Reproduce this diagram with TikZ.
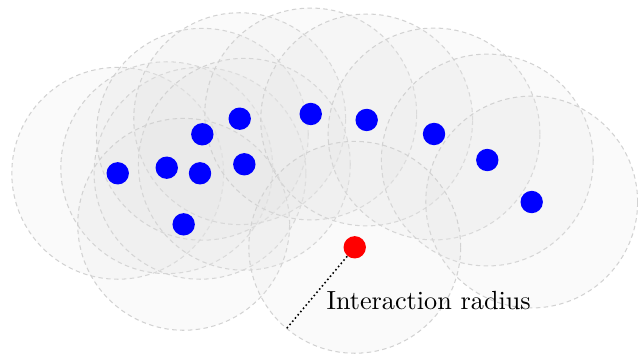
\documentclass[tikz,border=0pt]{standalone}
\usepackage{tikz}
\usetikzlibrary{calc, positioning}
\usepackage{xcolor}
\definecolor{myblue}{RGB}{0, 0, 255}
\definecolor{myred}{RGB}{255, 0, 0}

\tikzset{
    reach/.style={draw=gray!35, fill=gray!20, fill opacity=0.2, line width=0.4pt, dash pattern=on 1.7pt off 1.3pt},
    agent/.style={circle, fill=myblue, inner sep=0pt, minimum size=0.3cm},
    probe/.style={circle, fill=myred, inner sep=0pt, minimum size=0.3cm}
}

\begin{document}
\begin{tikzpicture}
        \useasboundingbox (0,0) rectangle (8.552,4.772);
        % --- Pozycje agentow ---
        \coordinate (p1) at (1.578, 2.449);
        \coordinate (p2) at (2.235, 2.524);
        \coordinate (p3) at (2.681, 2.449);
        \coordinate (p4) at (2.712, 2.972);
        \coordinate (p5) at (3.213, 3.181);
        \coordinate (p6) at (3.275, 2.570);
        \coordinate (p7) at (2.462, 1.765);
        \coordinate (p8) at (4.165, 3.244);
        \coordinate (p9) at (4.915, 3.164);
        \coordinate (p10) at (5.818, 2.976);
        \coordinate (p11) at (6.532, 2.627);
        \coordinate (p12) at (7.127, 2.064);
        \coordinate (p0) at (4.755, 1.457);

        % --- Zasiegi (dashed, polprzezroczyste) ---
        \draw[reach] (p1) circle (1.42cm);
        \draw[reach] (p2) circle (1.42cm);
        \draw[reach] (p3) circle (1.42cm);
        \draw[reach] (p4) circle (1.42cm);
        \draw[reach] (p5) circle (1.42cm);
        \draw[reach] (p6) circle (1.42cm);
        \draw[reach] (p7) circle (1.42cm);
        \draw[reach] (p8) circle (1.42cm);
        \draw[reach] (p9) circle (1.42cm);
        \draw[reach] (p10) circle (1.42cm);
        \draw[reach] (p11) circle (1.42cm);
        \draw[reach] (p12) circle (1.42cm);
        \draw[reach] (p0) circle (1.42cm);

        % --- Agenci ---
        \node[agent] (a1) at (p1) {};
        \node[agent] (a2) at (p2) {};
        \node[agent] (a3) at (p3) {};
        \node[agent] (a4) at (p4) {};
        \node[agent] (a5) at (p5) {};
        \node[agent] (a6) at (p6) {};
        \node[agent] (a7) at (p7) {};
        \node[agent] (a8) at (p8) {};
        \node[agent] (a9) at (p9) {};
        \node[agent] (a10) at (p10) {};
        \node[agent] (a11) at (p11) {};
        \node[agent] (a12) at (p12) {};
        \node[probe] (focal) at (p0) {};

        % Promien oddzialywania
        \coordinate (rim) at ($(p0)+(230:1.42cm)$);
        \draw[semithick, densely dotted] (focal) -- (rim);
        \node[anchor=base west, inner sep=0pt] (radiuslabel) at (4.37, 0.617) {Interaction radius};
\end{tikzpicture}
\end{document}
